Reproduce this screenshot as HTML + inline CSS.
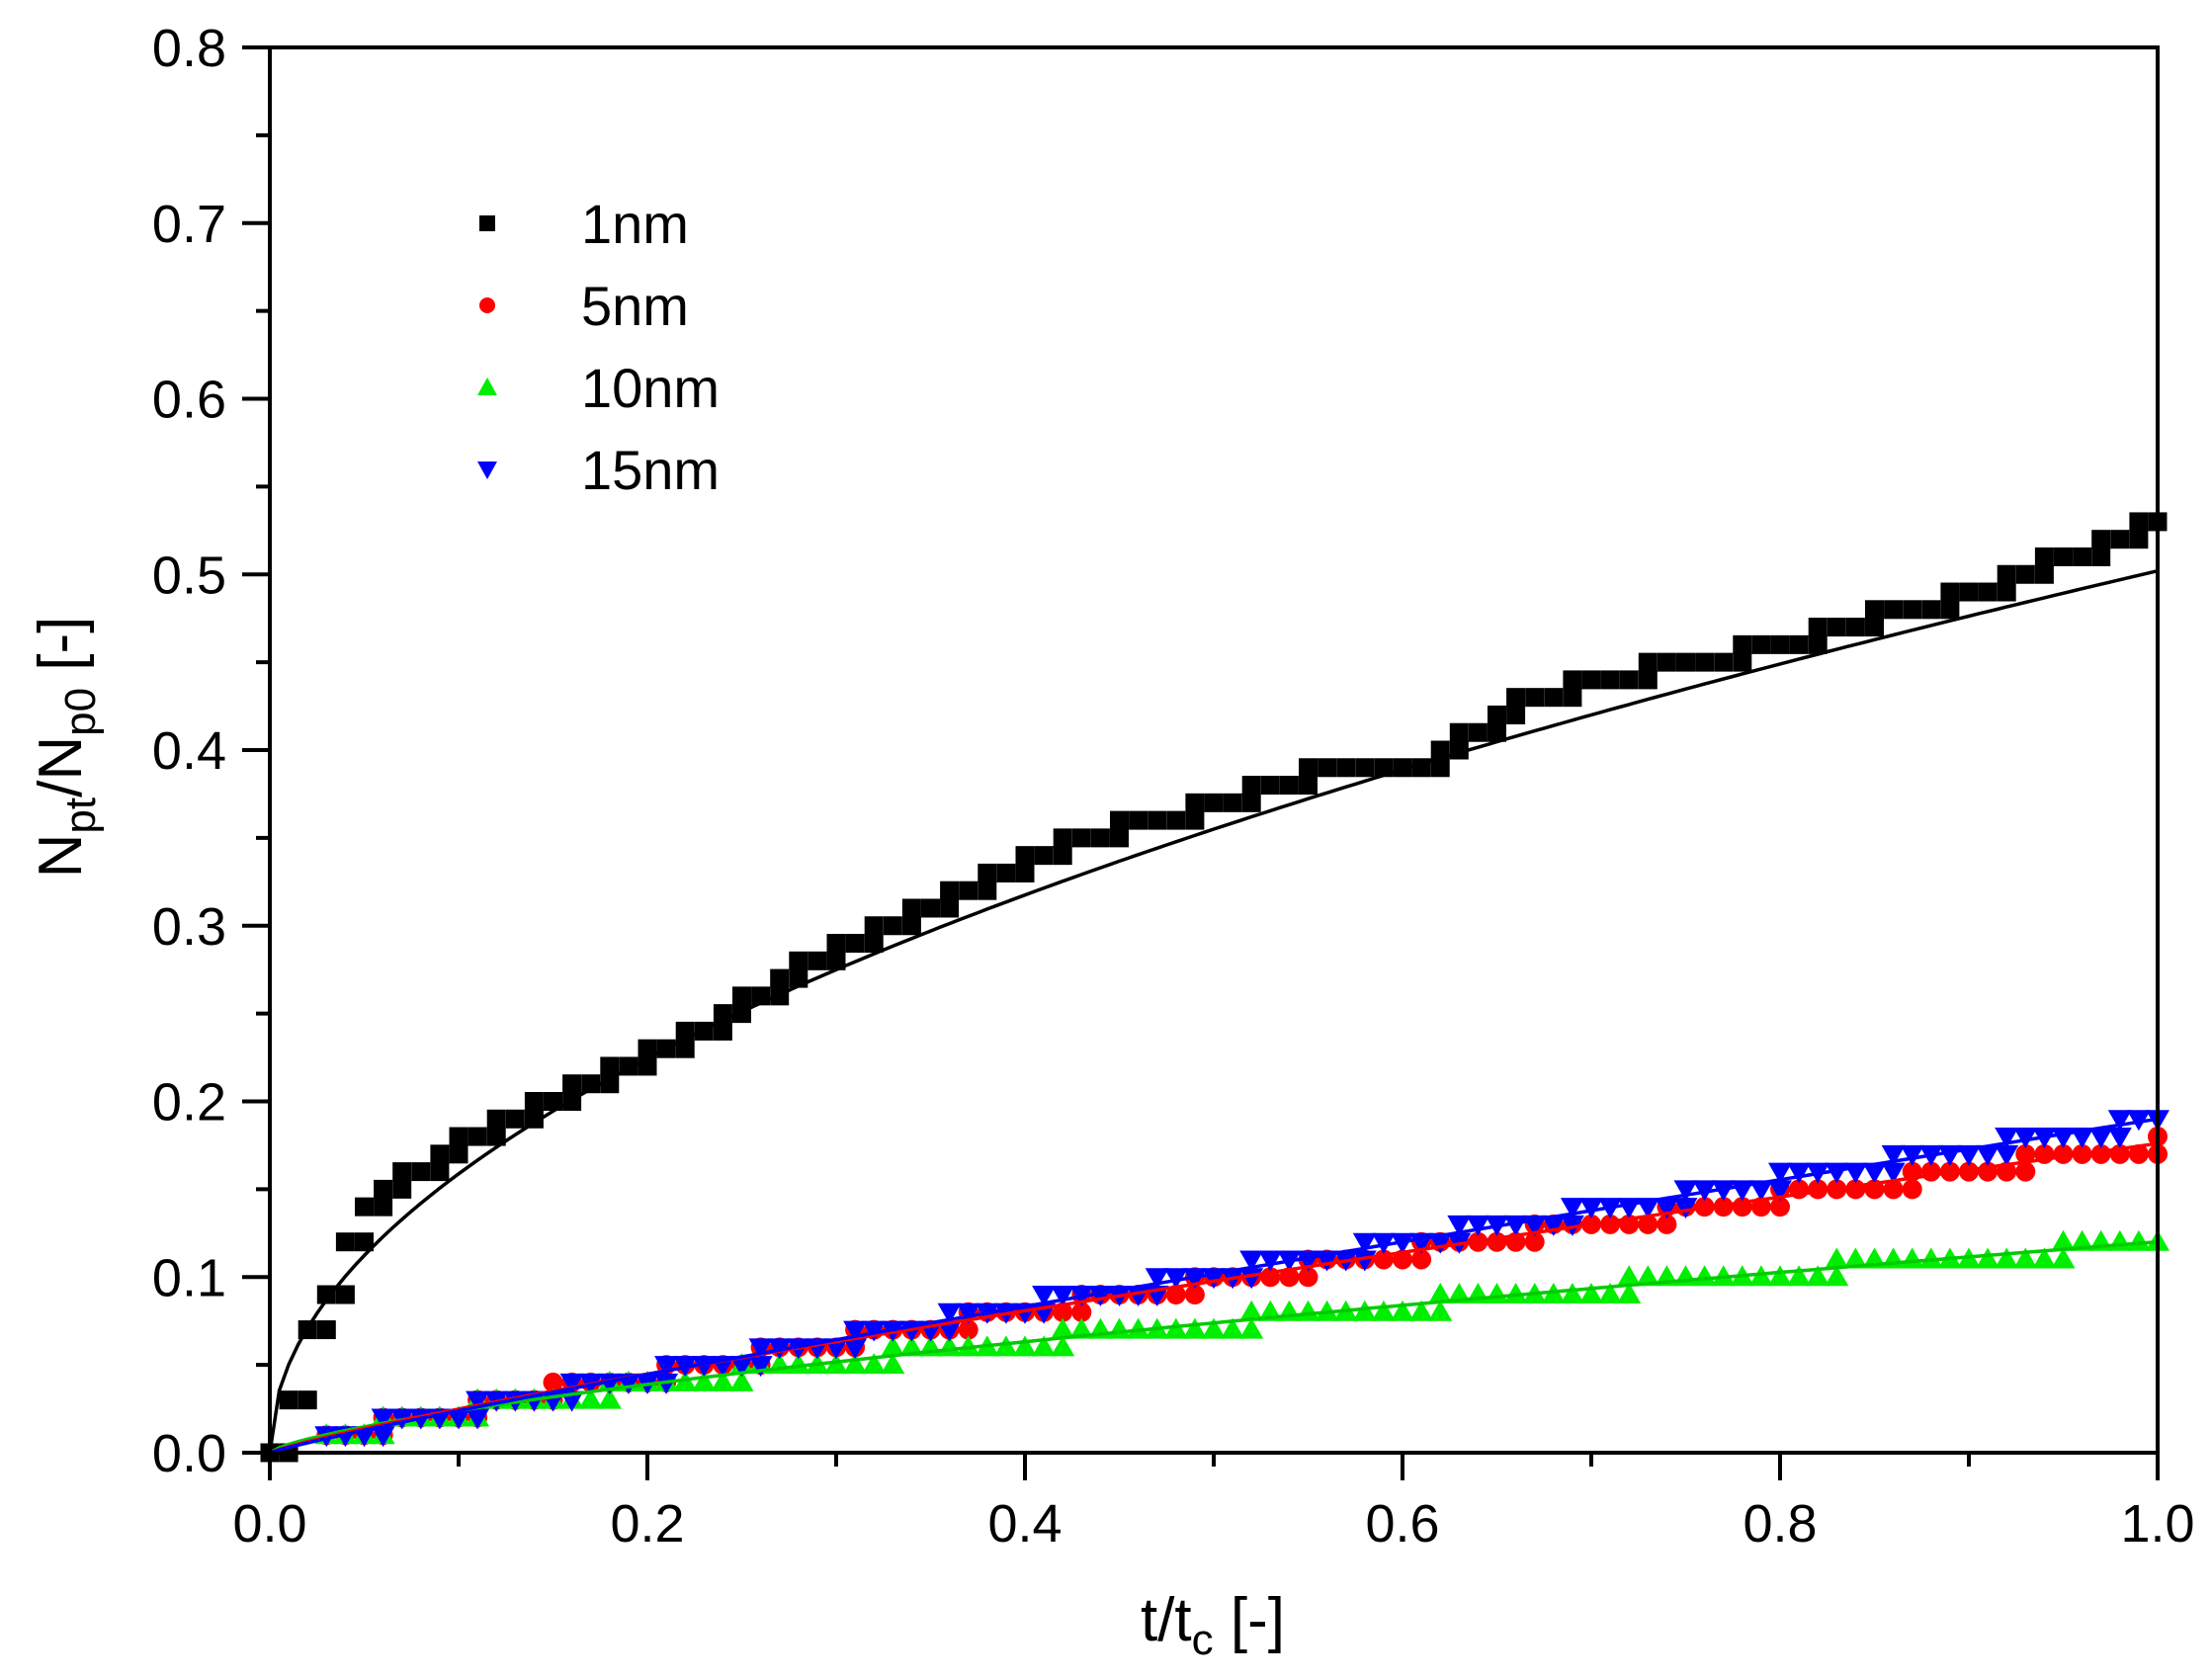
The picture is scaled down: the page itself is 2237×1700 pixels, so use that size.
<!DOCTYPE html>
<html><head><meta charset="utf-8"><style>
html,body{margin:0;padding:0;background:#fff;}
svg{display:block;font-family:"Liberation Sans",Arial,sans-serif;}
</style></head><body>
<svg id="c" width="2237" height="1700" xmlns="http://www.w3.org/2000/svg"></svg>
<script>
const X0=273,X1=2183,Y0=1470,Y1=48;
const sx=x=>X0+x*(X1-X0), sy=y=>Y0-y/0.8*(Y0-Y1);
let s='<rect width="2237" height="1700" fill="#fff"/>';
function interp(pts,x){for(let i=0;i<pts.length-1;i++){if(x<=pts[i+1][0]){const t=(x-pts[i][0])/(pts[i+1][0]-pts[i][0]);return pts[i][1]+t*(pts[i+1][1]-pts[i][1]);}}return pts[pts.length-1][1];}
const blk=[[0,0],[0.01,0.03],[0.02,0.07],[0.05,0.14],[0.1,0.18],[0.15,0.2],[0.2,0.225],[0.3,0.29],[0.35,0.31],[0.4,0.34],[0.5,0.37],[0.55,0.385],[0.61,0.39],[0.66,0.43],[0.73,0.445],[0.8,0.46],[0.9,0.49],[1,0.53]];
function fitPath(f,col,w){let d='';for(let i=0;i<=200;i++){const x=i/200;d+=(i?'L':'M')+sx(x).toFixed(1)+','+sy(f(x)).toFixed(1);}return `<path d="${d}" fill="none" stroke="${col}" stroke-width="${w}"/>`;}
const sqM=(px,y)=>`<rect x="${px-9.5}" y="${sy(y)-9.5}" width="19" height="19"/>`;
const ciM=(px,y)=>`<circle cx="${px}" cy="${sy(y)}" r="10"/>`;
const tuM=(px,y)=>`<path d="M${px},${sy(y)-12}L${px+12},${sy(y)+9}L${px-12},${sy(y)+9}Z"/>`;
const tdM=(px,y)=>`<path d="M${px},${sy(y)+12}L${px+12},${sy(y)-9}L${px-12},${sy(y)-9}Z"/>`;
let sq='',ci='',tu='',td='';
let pb=0,pr=0,pg=0,pB=0;
for(let i=0;i<=100;i++){const x=i/100,px=sx(x);
 const yb=Math.round(interp(blk,x)*100)/100; if(i>0&&yb>pb) sq+=sqM(px,pb); sq+=sqM(px,yb); pb=yb;
 if(i>=3){const yr=Math.round(0.176*Math.pow(x,0.85)*100)/100;if(yr>pr&&i>3)ci+=ciM(px,pr);ci+=ciM(px,yr);pr=yr;
 const yg=Math.round(0.12*Math.pow(x,0.7)*100)/100;if(yg>pg&&i>3)tu+=tuM(px,pg);tu+=tuM(px,yg);pg=yg;
 const yB=Math.round(0.19*Math.pow(x,0.9)*100)/100;if(yB>pB&&i>3)td+=tdM(px,pB);td+=tdM(px,yB);pB=yB;}
}
s+=`<g fill="#000">${sq}</g><g fill="#ff0000">${ci}</g><g fill="#00ee00">${tu}</g><g fill="#0000ff">${td}</g>`;
s+=fitPath(x=>0.502*Math.sqrt(x),'#000',3.5);
s+=fitPath(x=>0.12*Math.pow(x,0.7),'#00cc00',3.5);
s+=fitPath(x=>0.176*Math.pow(x,0.85),'#ff0000',3.5);
s+=fitPath(x=>0.19*Math.pow(x,0.9),'#0000ff',3.5);
s+=`<rect x="${X0}" y="${Y1}" width="${X1-X0}" height="${Y0-Y1}" fill="none" stroke="#000" stroke-width="4"/>`;
for(let i=0;i<=16;i++){const y=sy(i*0.05),L=i%2?14:28;s+=`<line x1="${X0-L}" y1="${y}" x2="${X0}" y2="${y}" stroke="#000" stroke-width="4"/>`;
 if(i%2==0)s+=`<text x="${X0-44}" y="${y+19}" font-size="54" text-anchor="end">${(i*0.05).toFixed(1)}</text>`;}
for(let i=0;i<=10;i++){const x=sx(i*0.1),L=i%2?14:28;s+=`<line x1="${x}" y1="${Y0}" x2="${x}" y2="${Y0+L}" stroke="#000" stroke-width="4"/>`;
 if(i%2==0)s+=`<text x="${x}" y="${Y0+90}" font-size="54" text-anchor="middle">${(i*0.1).toFixed(1)}</text>`;}
s+=`<text x="1227" y="1660" font-size="62" text-anchor="middle">t/t<tspan font-size="44" dy="14">c</tspan><tspan dy="-14"> [-]</tspan></text>`;
s+=`<text transform="translate(82,756) rotate(-90)" font-size="62" text-anchor="middle">N<tspan font-size="44" dy="14">pt</tspan><tspan dy="-14">/N</tspan><tspan font-size="44" dy="14">p0</tspan><tspan dy="-14"> [-]</tspan></text>`;
const ly=[226,309,392,475],lab=['1nm','5nm','10nm','15nm'];
ly.forEach((y,k)=>{const x=493;
 if(k==0)s+=`<rect x="${x-8}" y="${y-8}" width="16" height="16" fill="#000"/>`;
 if(k==1)s+=`<circle cx="${x}" cy="${y}" r="8" fill="#f00"/>`;
 if(k==2)s+=`<path d="M${x},${y-10}L${x+10},${y+8}L${x-10},${y+8}Z" fill="#00ee00"/>`;
 if(k==3)s+=`<path d="M${x},${y+10}L${x+10},${y-8}L${x-10},${y-8}Z" fill="#00f"/>`;
 s+=`<text x="588" y="${y+20}" font-size="56">${lab[k]}</text>`;});
document.getElementById('c').innerHTML=s;
</script>
</body></html>
